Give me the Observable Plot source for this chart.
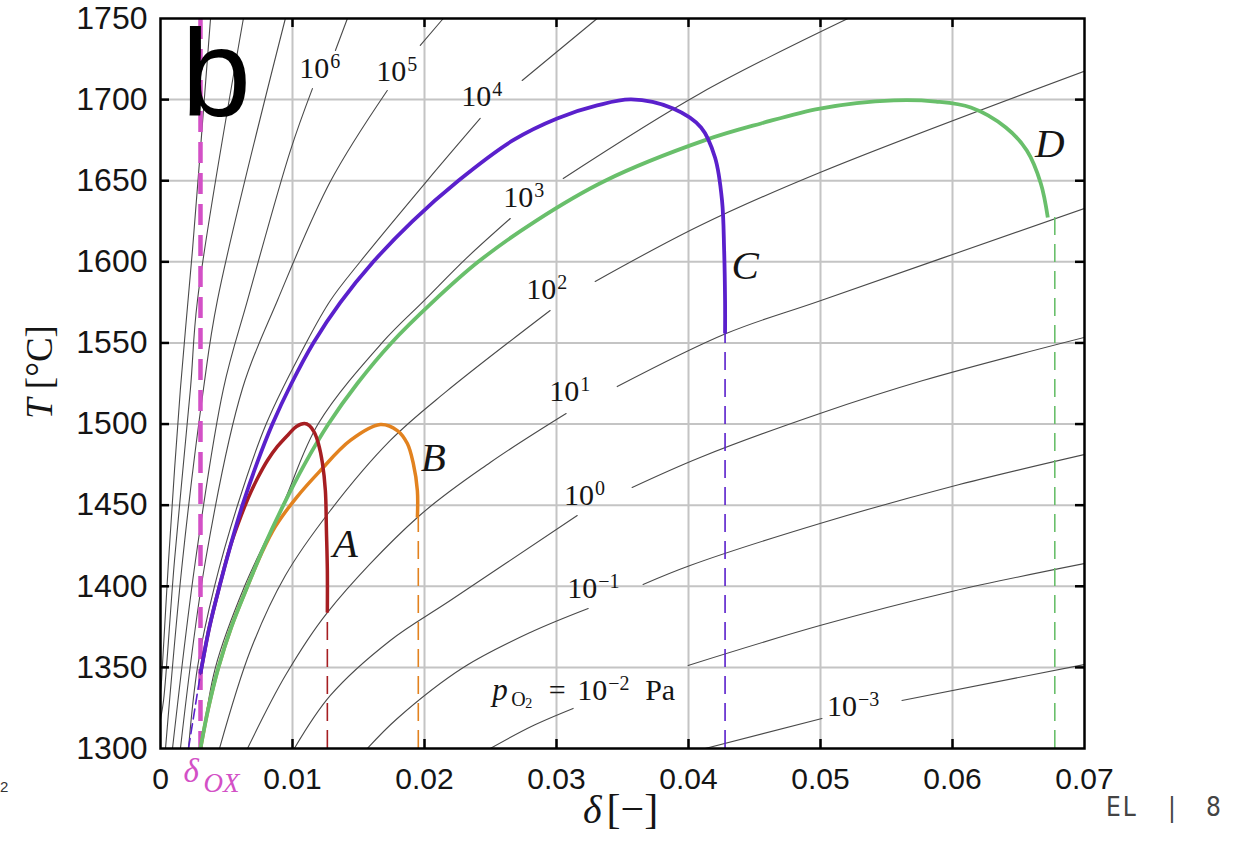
<!DOCTYPE html>
<html><head><meta charset="utf-8">
<script src="https://cdn.jsdelivr.net/npm/d3@7"></script>
<script src="https://cdn.jsdelivr.net/npm/@observablehq/plot@0.6"></script>
<style>
html,body{margin:0;padding:0;background:#fff;}
#chart{position:relative;width:1236px;height:843px;overflow:hidden;background:#fff;}
.ft{position:absolute;top:792px;font-size:26px;font-family:'DejaVu Sans Condensed','DejaVu Sans',sans-serif;color:#444;line-height:30px;}
#edge{position:absolute;left:0px;top:778px;font:15px 'Liberation Sans',Arial,sans-serif;color:#333;line-height:18px;}
</style></head><body><div id="chart">
<div id="edge">2</div>
<div class="ft" style="left:1106px;letter-spacing:2px;">EL</div>
<div class="ft" style="left:1168px;">|</div>
<div class="ft" style="left:1206px;">8</div>
</div>
<script>
// ---------- axis ticks ----------
const xTickValues = [0, 0.01, 0.02, 0.03, 0.04, 0.05, 0.06, 0.07];
const xTickLabels = ["0", "0.01", "0.02", "0.03", "0.04", "0.05", "0.06", "0.07"];
const yTickValues = [1300, 1350, 1400, 1450, 1500, 1550, 1600, 1650, 1700, 1750];
const yTickLabels = ["1300", "1350", "1400", "1450", "1500", "1550", "1600", "1650", "1700", "1750"];
const xInner = [0.01, 0.02, 0.03, 0.04, 0.05, 0.06];
const yInner = [1350, 1400, 1450, 1500, 1550, 1600, 1650, 1700];

// ---------- delta_ox ----------
const deltaOx = 0.00303;

// ---------- reduction curves [delta, T] ----------
const curveA = [[0.00303,1346.2],[0.00371,1375],[0.00447,1400],[0.00530,1425],[0.00594,1439.9],[0.00666,1454.7],[0.00734,1466.4],[0.00810,1477.5],[0.00886,1486.2],[0.00969,1493.6],[0.01030,1498.5],[0.01090,1500.3],[0.01128,1499.1],[0.01166,1494.8],[0.01196,1488.0],[0.01226,1476.3],[0.01249,1459.0],[0.01257,1434.4],[0.01264,1409.7],[0.01264,1383.8]];
const curveB = [[0.00303,1300],[0.00363,1325],[0.00439,1350],[0.00537,1375],[0.00659,1400],[0.00765,1420.2],[0.00871,1436.9],[0.01030,1454.7],[0.01204,1470.7],[0.01438,1489.9],[0.01665,1499.7],[0.01794,1496.0],[0.01870,1488.0],[0.01915,1475.7],[0.01946,1459.0],[0.01946,1442.4]];
const curveC = [[0.00303,1346.2],[0.00371,1375],[0.00447,1400],[0.00530,1425],[0.00621,1450],[0.00727,1475],[0.00848,1500],[0.00992,1525],[0.01158,1550],[0.01363,1575],[0.01612,1600],[0.01908,1625],[0.02256,1650],[0.02672,1675],[0.03005,1688.4],[0.03308,1696.4],[0.03566,1700.1],[0.03883,1694.5],[0.04095,1682.8],[0.04201,1664.3],[0.04254,1637.8],[0.04270,1607.0],[0.04277,1576.2],[0.04277,1555.8]];
const curveCStart = [[0.00212,1300],[0.00303,1346.2]];
const curveD = [[0.00303,1300],[0.00363,1325],[0.00439,1350],[0.00537,1375],[0.00659,1400],[0.00787,1425],[0.00931,1450],[0.01090,1475],[0.01272,1500],[0.01491,1525],[0.01749,1550],[0.02059,1575],[0.02407,1600],[0.02839,1625],[0.03369,1650],[0.04126,1675],[0.04550,1685.3],[0.04996,1694.5],[0.05556,1699.5],[0.05874,1698.8],[0.06139,1695.1],[0.06404,1682.8],[0.06563,1668.6],[0.06669,1648.3],[0.06722,1627.3]];
const endDelta = [0.01264, 0.01953, 0.04277, 0.06775];
const endT = [1383.8, 1442.4, 1555.8, 1627.3];
const curveNames = ["A", "B", "C", "D"];
const curveLabelDelta = [0.0140, 0.02067, 0.04429, 0.06737];
const curveLabelT = [1426.3, 1479.4, 1597.7, 1673.0];
const curveColors = ["#a61e22", "#e2821f", "#5a20cc", "#69bf6b"];
const oxColor = "#d350c6";

// ---------- isobars (segments of [delta, T]) ----------
const iso_p9 = [[[0.00379,1750],[0.00242,1607.0],[0.00151,1521.9],[0.00061,1415.9],[0.00008,1341.9],[0.0,1335]]];
const iso_p8 = [[[0.00628,1750],[0.00280,1576.2],[0.00227,1521.9],[0.00106,1415.9],[0.00023,1329.6],[0.0,1318]]];
const iso_p7 = [[[0.00946,1750],[0.00431,1576.2],[0.00326,1521.9],[0.00167,1415.9],[0.00038,1300]]];
const iso_p6 = [[[0.01416,1750],[0.01325,1730.3]],[[0.01151,1706.8],[0.00984,1668.6],[0.00659,1576.2],[0.00477,1521.9],[0.00265,1415.9],[0.00091,1300]]];
const iso_p5 = [[[0.02142,1750],[0.01968,1733.4]],[[0.01718,1705.6],[0.01287,1649.5],[0.00886,1576.2],[0.00621,1521.9],[0.00341,1415.9],[0.00151,1300]]];
const iso_p4 = [[[0.03308,1750],[0.02740,1711.8]],[[0.02422,1688.4],[0.02021,1650.1],[0.01514,1600.2],[0.01287,1576.2],[0.01105,1550.3],[0.00802,1500.3],[0.00583,1449.8],[0.00409,1399.9],[0.00280,1349.9],[0.00212,1300]]];
const iso_p3 = [[[0.05208,1750],[0.04088,1703.8],[0.03051,1651.4]],[[0.02650,1626.7],[0.02316,1602.1],[0.01999,1576.2],[0.01681,1550.3],[0.01196,1500.3],[0.00924,1449.8],[0.00636,1399.9],[0.00416,1349.9],[0.00310,1300]]];
const iso_p2 = [[[0.0700,1717.5],[0.04996,1655.1],[0.04088,1622.4],[0.03293,1587.9]],[[0.02952,1570.0],[0.02157,1519.5],[0.01741,1489.9],[0.01287,1446.7],[0.00946,1406.6],[0.00681,1360.4],[0.00447,1300]]];
const iso_p1 = [[[0.0700,1632.9],[0.05004,1576.2],[0.04285,1555.8],[0.03460,1523.1]],[[0.03073,1506.5],[0.02498,1476.3],[0.01946,1442.4],[0.01264,1383.8],[0.00946,1345.0],[0.00659,1300]]];
const iso_p0 = [[[0.0700,1553.4],[0.05776,1526.8],[0.04996,1506.5],[0.04088,1479.4],[0.03573,1460.9]],[[0.03157,1443.6],[0.02195,1391.2],[0.01741,1366.6],[0.01287,1332.7],[0.01014,1300]]];
const iso_m1 = [[[0.0700,1481.2],[0.05995,1461.5],[0.04996,1438.7],[0.04012,1412.8],[0.03656,1401.1]],[[0.03240,1386.3],[0.02801,1371.5],[0.02294,1349.9],[0.01794,1318.5],[0.01567,1300]]];
const iso_m2 = [[[0.0700,1414.0],[0.05995,1396.8],[0.04996,1375.8],[0.03997,1351.2]],[[0.03126,1324.7],[0.02809,1313.6],[0.02498,1300]]];
const iso_m3 = [[[0.0700,1351.8],[0.05617,1329.6]],[[0.05011,1318.5],[0.04126,1300]]];

// ---------- isobar labels ----------
const isoExp = ["6", "5", "4", "3", "2", "1", "0", "\u22121", "\u22123"];
const isoLabelDelta = [0.01279, 0.01862, 0.02506, 0.02824, 0.02998, 0.03172, 0.03285, 0.03308, 0.05276];
const isoLabelT = [1719.2, 1717.3, 1701.9, 1639.7, 1583.0, 1520.1, 1456.0, 1398.6, 1325.9];
const pO2Delta = 0.03384, pO2T = 1335.8;

// ---------- build tables ----------
const isobars = [iso_p9, iso_p8, iso_p7, iso_p6, iso_p5, iso_p4, iso_p3, iso_p2, iso_p1, iso_p0, iso_m1, iso_m2, iso_m3];
const isoRows = [];
isobars.forEach((segs, i) => segs.forEach((seg, j) => seg.forEach(([d, t]) => isoRows.push({d, t, key: i + "-" + j}))));
const toRows = (arr) => arr.map(([d, t]) => ({d, t}));

const serif = "'Liberation Serif', 'Times New Roman', serif";
const sans = "'Liberation Sans', Arial, sans-serif";
const ink = "#151515";
const idx = (n) => d3.range(n);

const curveLine = (arr, color, w) => Plot.line(toRows(arr), {x: "d", y: "t", stroke: color, strokeWidth: w, curve: "catmull-rom", clip: true, strokeLinejoin: "round", strokeLinecap: "butt"});
const at = (dx, dy, txt, size, extra = {}) => Plot.text([0], {x: () => pO2Delta, y: () => pO2T, text: () => txt, dx, dy, fontSize: size, fontFamily: serif, fill: ink, textAnchor: "start", ...extra});

const chart = Plot.plot({
  width: 1236, height: 843,
  marginLeft: 160, marginRight: 152, marginTop: 18, marginBottom: 95,
  x: {domain: [0, 0.07], axis: null},
  y: {domain: [1300, 1750], axis: null},
  style: {background: "white", overflow: "visible"},
  marks: [
    Plot.ruleX(xInner, {x: d => d, stroke: "#c4c4c4", strokeWidth: 2}),
    Plot.ruleY(yInner, {y: d => d, stroke: "#c4c4c4", strokeWidth: 2}),
    Plot.line(isoRows, {x: "d", y: "t", z: "key", stroke: "#4a4a4a", strokeWidth: 1.1, curve: "catmull-rom", clip: true}),
    Plot.ruleX([deltaOx], {x: d => d, stroke: oxColor, strokeWidth: 4.5, strokeDasharray: "21,10"}),
    Plot.ruleX(idx(4), {x: i => endDelta[i], y1: () => 1300, y2: i => endT[i], stroke: i => curveColors[i], strokeWidth: 1.6, strokeDasharray: "18,9"}),
    Plot.line(toRows(curveCStart), {x: "d", y: "t", stroke: curveColors[2], strokeWidth: 1.6, strokeDasharray: "10,5"}),
    curveLine(curveB, curveColors[1], 3.5),
    curveLine(curveD, curveColors[3], 3.8),
    curveLine(curveA, curveColors[0], 3.5),
    curveLine(curveC, curveColors[2], 3.8),
    Plot.frame({stroke: "#000", strokeWidth: 2.5}),
    Plot.tickX(xInner, {x: d => d, insetTop: 721, stroke: "#000", strokeWidth: 2.5}),
    Plot.tickX(xInner, {x: d => d, insetBottom: 721, stroke: "#000", strokeWidth: 2.5}),
    Plot.tickY(yInner, {y: d => d, insetRight: 915, stroke: "#000", strokeWidth: 2.5}),
    Plot.tickY(yInner, {y: d => d, insetLeft: 915, stroke: "#000", strokeWidth: 2.5}),
    // tick labels
    Plot.text(idx(xTickValues.length), {x: i => xTickValues[i], text: i => xTickLabels[i], frameAnchor: "bottom", dy: 40, fontSize: 30, fontFamily: sans, fill: ink}),
    Plot.text(idx(yTickValues.length), {y: i => yTickValues[i], text: i => yTickLabels[i], frameAnchor: "left", dx: -13, textAnchor: "end", fontSize: 32, fontFamily: sans, fill: ink}),
    // axis titles
    Plot.text(["δ"], {text: d => d, frameAnchor: "bottom", dx: -21, dy: 74, textAnchor: "end", fontSize: 40, fontStyle: "italic", fontFamily: serif, fill: ink}),
    Plot.text(["[\u2212]"], {text: d => d, frameAnchor: "bottom", dx: -16, dy: 74, textAnchor: "start", fontSize: 42, fontFamily: serif, fill: ink}),
    Plot.text([1515.8], {y: d => d, text: () => "T", frameAnchor: "left", dx: -120, rotate: -90, textAnchor: "end", fontSize: 37, fontStyle: "italic", fontFamily: serif, fill: ink}),
    Plot.text([1515.8], {y: d => d, text: () => " [°C]", frameAnchor: "left", dx: -120, rotate: -90, textAnchor: "start", fontSize: 37, fontFamily: serif, fill: ink}),
    // delta_ox label
    Plot.text([deltaOx], {x: d => d, text: () => "δ", frameAnchor: "bottom", dx: -17, dy: 33, textAnchor: "start", fontSize: 33, fontStyle: "italic", fontFamily: serif, fill: oxColor}),
    Plot.text([deltaOx], {x: d => d, text: () => "OX", frameAnchor: "bottom", dx: 3, dy: 43, textAnchor: "start", fontSize: 27, fontStyle: "italic", fontFamily: serif, fill: oxColor}),
    // isobar labels
    Plot.text(idx(isoExp.length), {x: i => isoLabelDelta[i], y: i => isoLabelT[i], text: () => "10", textAnchor: "end", fontSize: 30, fontFamily: serif, fill: ink}),
    Plot.text(idx(isoExp.length), {x: i => isoLabelDelta[i], y: i => isoLabelT[i], text: i => isoExp[i], textAnchor: "start", dx: 1, dy: -7, fontSize: 20, fontFamily: serif, fill: ink}),
    // pO2 = 10^-2 Pa
    at(-115, 0, "p", 31, {fontStyle: "italic"}),
    at(-96, 9, "O", 20),
    at(-82, 13, "2", 14),
    at(-50, 0, "=", 30, {textAnchor: "middle"}),
    at(0, 0, "10", 30, {textAnchor: "end"}),
    at(1, -7, "\u22122", 20),
    at(38, 0, "Pa", 30),
    // curve labels
    Plot.text(idx(4), {x: i => curveLabelDelta[i], y: i => curveLabelT[i], text: i => curveNames[i], fontSize: 41, fontStyle: "italic", fontFamily: serif, fill: ink}),
    // panel letter
    Plot.text(["b"], {text: d => d, frameAnchor: "top-left", dx: 21, dy: 97, lineAnchor: "bottom", fontSize: 125, fontFamily: sans, fill: "#000"})
  ]
});
document.getElementById("chart").appendChild(chart);
</script></body></html>
